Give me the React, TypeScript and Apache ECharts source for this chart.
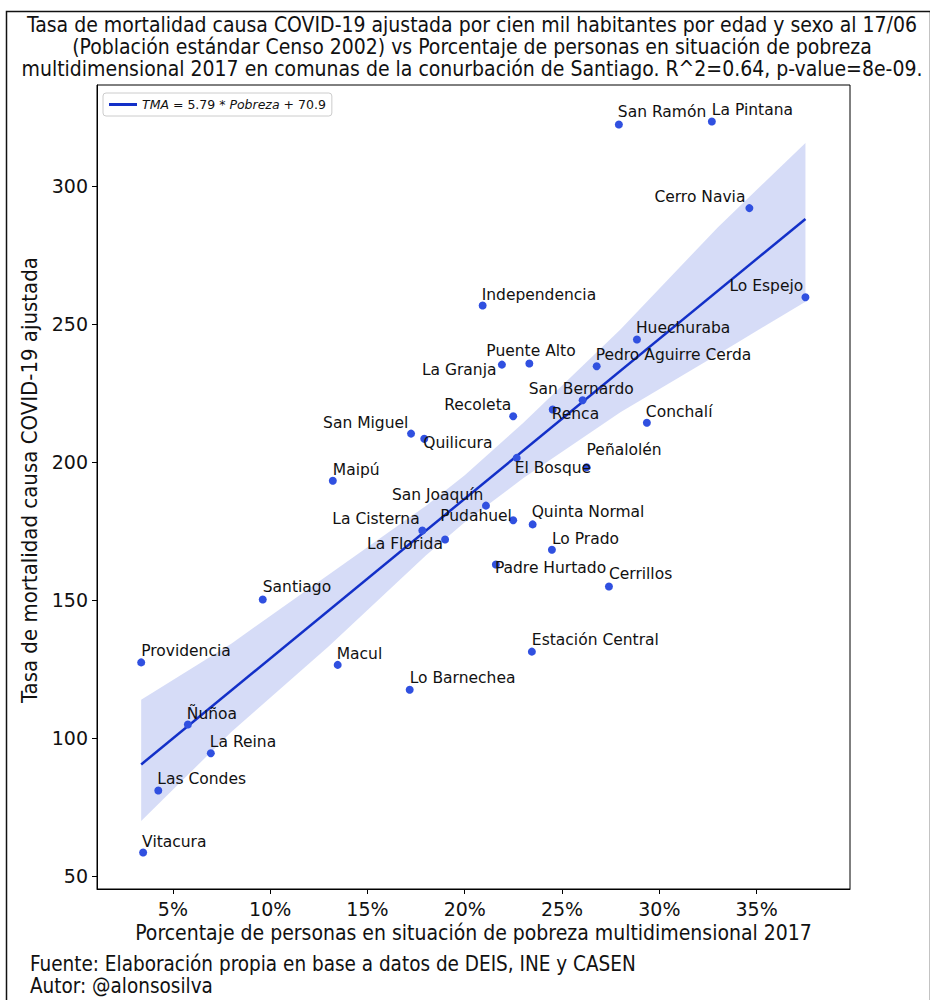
import React, { useEffect, useRef } from "react";
import * as echarts from "echarts";

const comunas = [
  "San Ramón", "La Pintana", "Cerro Navia", "Lo Espejo", "Independencia", "Huechuraba",
  "Pedro Aguirre Cerda", "La Granja", "Puente Alto", "San Bernardo", "Renca", "Recoleta",
  "Conchalí", "San Miguel", "Quilicura", "El Bosque", "Peñalolén", "Maipú", "San Joaquín",
  "Pudahuel", "Quinta Normal", "La Cisterna", "La Florida", "Lo Prado", "Padre Hurtado",
  "Cerrillos", "Estación Central", "Lo Barnechea", "Santiago", "Providencia", "Macul",
  "Ñuñoa", "La Reina", "Las Condes", "Vitacura",
];
const pobreza = [
  27.92, 32.7, 34.63, 37.51, 20.92, 28.85,
  26.78, 21.91, 23.32, 26.06, 24.52, 22.49,
  29.36, 17.24, 17.92, 22.67, 26.26, 13.22, 21.09,
  22.49, 23.49, 17.82, 18.99, 24.48, 21.6,
  27.41, 23.45, 17.17, 9.62, 3.37, 13.47,
  5.77, 6.95, 4.25, 3.47,
];
const tasa = [
  322.3, 323.4, 292.0, 259.7, 256.7, 244.4,
  234.7, 235.3, 235.7, 222.4, 219.0, 216.6,
  214.2, 210.3, 208.4, 201.5, 198.1, 193.2, 184.2,
  178.9, 177.4, 175.2, 171.9, 168.2, 162.9,
  154.9, 131.3, 117.5, 150.2, 127.4, 126.5,
  104.9, 94.5, 81.0, 58.5,
];
// label offsets (px, left edge / vertical middle of text relative to the point)
const labelDx = [
  -1, 0, -95, -76, -1, -1,
  -1, -80, -43, -54, -1, -69,
  -1, -88, -1, -2, 0, 0, -94,
  -73, -1, -90, -78, 0, -1,
  0, 0, 0, 0, 0, -1,
  -1, -1, -1, -1,
];
const labelDy = [
  -12, -11, -11, -11, -11, -11,
  -11, 5, -12, -11, 4, -11,
  -11, -11, 4, 10, -17, -11, -11,
  -4, -12, -11, 4, -11, 4,
  -12, -12, -12, -12, -11, -11,
  -11, -11, -11, -11,
];

const slope = 5.79;
const intercept = 70.9;

const bandX = [3.37, 8, 13, 18, 20, 23, 28, 33, 37.51];
const bandUpper = [113.9, 134.2, 159.2, 184.1, 195.2, 214.1, 248.0, 285.0, 315.6];
const bandLower = [69.9, 102.2, 133.2, 166.1, 178.2, 194.1, 218.0, 239.0, 258.1];

const xTicks = [5, 10, 15, 20, 25, 30, 35];
const yTicks = [50, 100, 150, 200, 250, 300];

const titleLines = [
  "Tasa de mortalidad causa COVID-19 ajustada por cien mil habitantes por edad y sexo al 17/06",
  "(Población estándar Censo 2002) vs Porcentaje de personas en situación de pobreza",
  "multidimensional 2017 en comunas de la conurbación de Santiago. R^2=0.64, p-value=8e-09.",
];
const footerLines = [
  "Fuente: Elaboración propia en base a datos de DEIS, INE y CASEN",
  "Autor: @alonsosilva",
];
const legendName = "TMA = 5.79 * Pobreza + 70.9";

const COND = "'DejaVu Sans Condensed', 'Liberation Sans Narrow', 'DejaVu Sans', sans-serif";
const DV = "'DejaVu Sans', sans-serif";

export default function App() {
  const ref = useRef<HTMLDivElement>(null);
  useEffect(() => {
    if (!ref.current) return;
    const chart = echarts.init(ref.current, undefined, { renderer: "svg" });
    const xMin = Math.min(...pobreza);
    const xMax = Math.max(...pobreza);
    const titleY = [25, 47, 69];
    const footerY = [964, 986];
    const option = {
      animation: false,
      backgroundColor: "#ffffff",
      grid: {
        left: 97, top: 85, right: 80, bottom: 111,
        show: true, borderColor: "#000", borderWidth: 1, containLabel: false,
      },
      legend: {
        left: 103, top: 93,
        padding: [5, 6, 5, 6],
        borderColor: "#cccccc", borderWidth: 1, borderRadius: 3,
        itemWidth: 28, itemHeight: 3, itemGap: 8,
        data: [{ name: legendName, icon: "rect" }],
        formatter: () => "{i|TMA} = 5.79 * {i|Pobreza} + 70.9",
        textStyle: {
          fontFamily: DV, fontSize: 12.5, color: "#111",
          rich: { i: { fontStyle: "italic", fontFamily: DV, fontSize: 12.5, color: "#111" } },
        },
      },
      xAxis: {
        type: "value", min: 1.1, max: 39.8,
        splitLine: { show: false },
        axisLine: { show: true, onZero: false, lineStyle: { color: "#000", width: 1 } },
        axisTick: { show: true, length: 5, customValues: xTicks, lineStyle: { color: "#000" } },
        axisLabel: {
          customValues: xTicks, margin: 10, color: "#111", fontFamily: DV, fontSize: 19,
          formatter: (v: number) => `${v}%`,
        },
        name: "Porcentaje de personas en situación de pobreza multidimensional 2017",
        nameLocation: "middle", nameGap: 30,
        nameTextStyle: { color: "#111", fontFamily: COND, fontSize: 21 },
      },
      yAxis: {
        type: "value", min: 45.3, max: 336.6,
        splitLine: { show: false },
        axisLine: { show: true, onZero: false, lineStyle: { color: "#000", width: 1 } },
        axisTick: { show: true, length: 5, customValues: yTicks, lineStyle: { color: "#000" } },
        axisLabel: {
          customValues: yTicks, margin: 9, color: "#111", fontFamily: DV, fontSize: 19,
        },
        name: "Tasa de mortalidad causa COVID-19 ajustada",
        nameLocation: "middle", nameGap: 52,
        nameTextStyle: { color: "#111", fontFamily: COND, fontSize: 22, padding: [0, 0, 0, 14] },
      },
      graphic: [
        {
          type: "rect", left: 4, top: 9, z: -10, silent: true,
          shape: { width: 924, height: 990 },
          style: { fill: "none", stroke: "#111", lineWidth: 1.5 },
        },
        ...titleLines.map((t, i) => ({
          type: "text", x: 472, y: titleY[i],
          style: {
            text: t, textAlign: "center", textVerticalAlign: "middle",
            fontFamily: COND, fontSize: 21, fill: "#111",
          },
        })),
        ...footerLines.map((t, i) => ({
          type: "text", x: 30, y: footerY[i],
          style: {
            text: t, textAlign: "left", textVerticalAlign: "middle",
            fontFamily: COND, fontSize: 20.5, fill: "#111",
          },
        })),
      ],
      series: [
        {
          type: "custom",
          name: "band",
          coordinateSystem: "cartesian2d",
          z: 1,
          silent: true,
          data: [[bandX[0], bandLower[0]]],
          renderItem: (_params: any, api: any) => {
            const pts: number[][] = [];
            for (let i = 0; i < bandX.length; i++) pts.push(api.coord([bandX[i], bandUpper[i]]));
            for (let i = bandX.length - 1; i >= 0; i--) pts.push(api.coord([bandX[i], bandLower[i]]));
            return {
              type: "polygon",
              shape: { points: pts },
              style: { fill: "rgba(30,60,210,0.18)", stroke: "none" },
            };
          },
        },
        {
          type: "line",
          name: legendName,
          z: 2,
          showSymbol: false,
          symbol: "none",
          data: [
            [xMin, slope * xMin + intercept],
            [xMax, slope * xMax + intercept],
          ],
          lineStyle: { color: "#1330c8", width: 2.5 },
          itemStyle: { color: "#1330c8" },
        },
        {
          type: "scatter",
          name: "comunas",
          z: 3,
          symbolSize: 8,
          itemStyle: { color: "#3050e0", opacity: 1 },
          label: {
            show: true,
            formatter: (p: any) => comunas[p.dataIndex],
            color: "#111", fontFamily: DV, fontSize: 15.5,
            align: "left", verticalAlign: "middle",
          },
          data: comunas.map((_, i) => ({
            value: [pobreza[i], tasa[i]],
            label: { position: [labelDx[i] + 4, labelDy[i] + 4] },
          })),
        },
      ],
    };
    chart.setOption(option as any);
    return () => chart.dispose();
  }, []);
  return (
    <div
      ref={ref}
      style={{ position: "absolute", left: 0, top: 0, width: 930, height: 1000 }}
    />
  );
}
